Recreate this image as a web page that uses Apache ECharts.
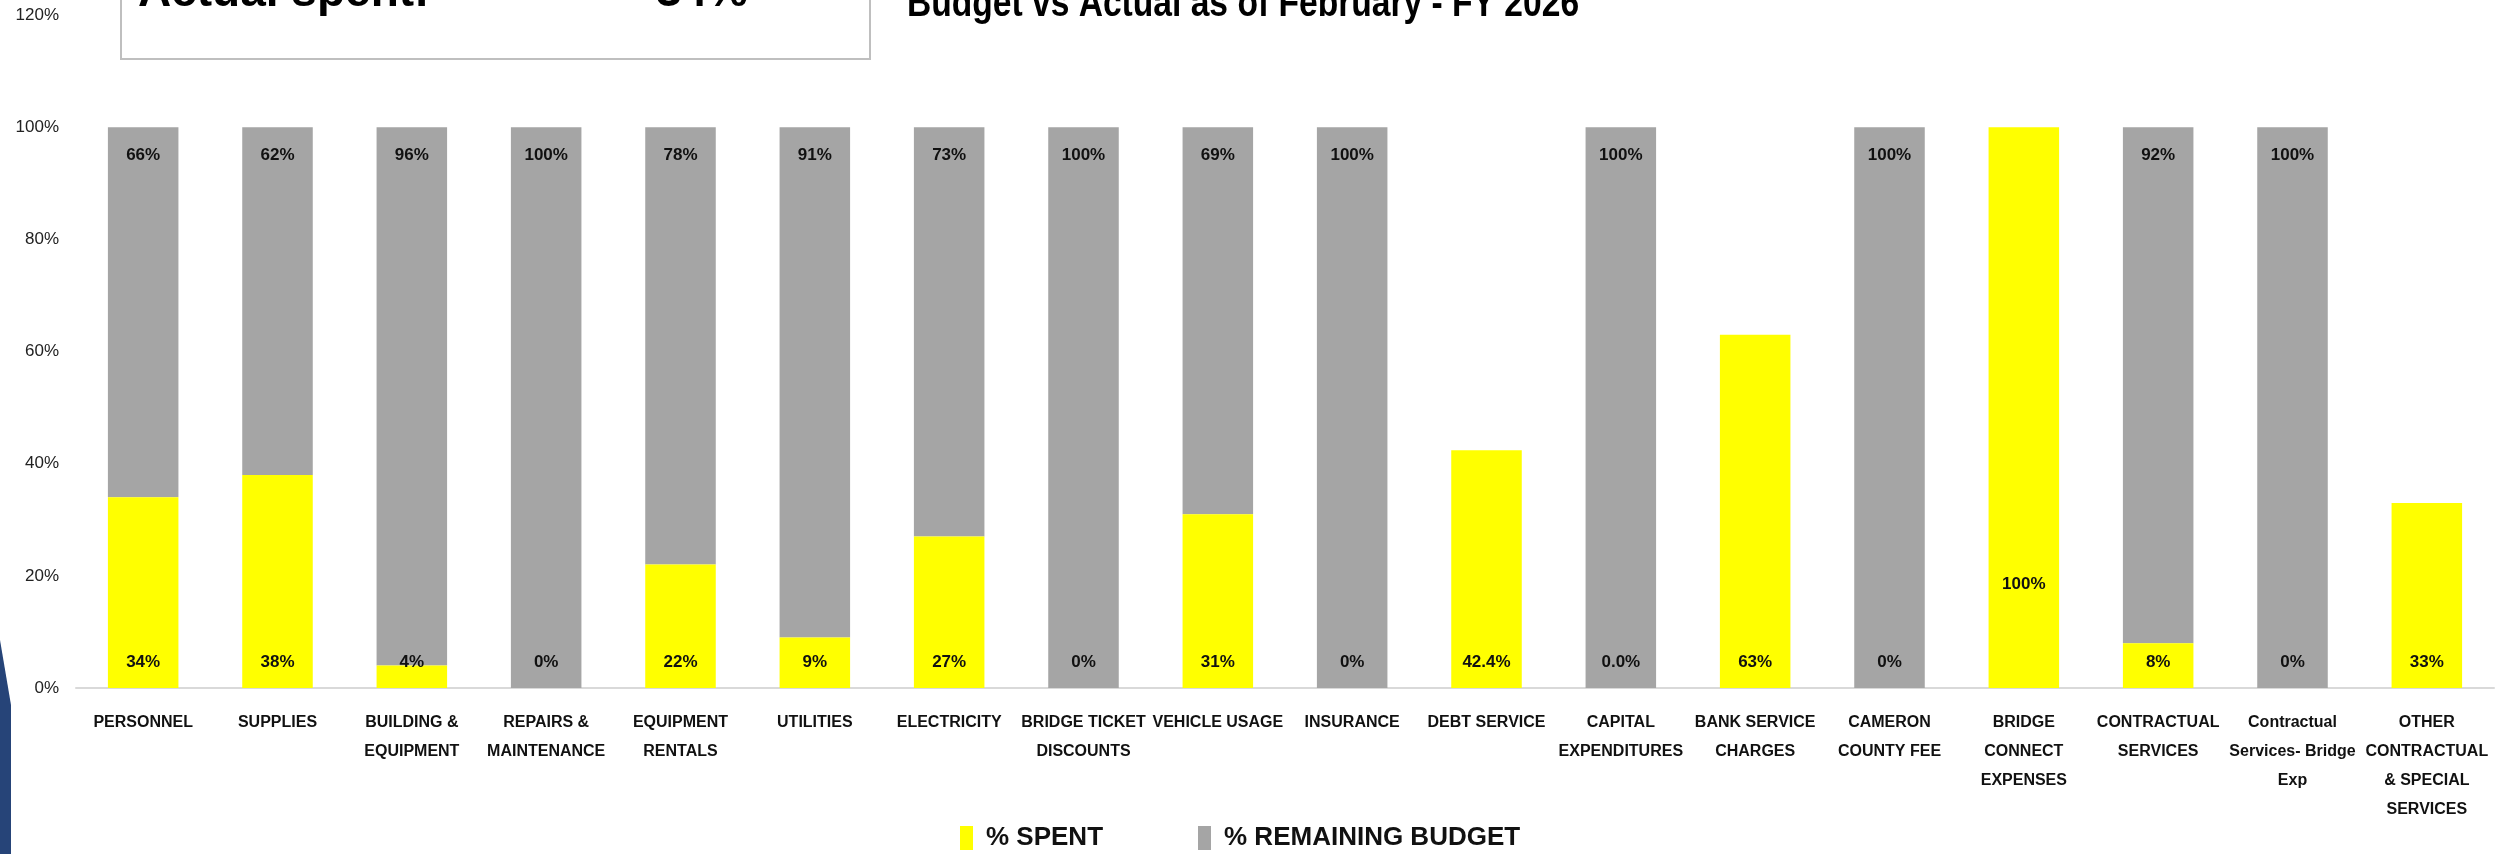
<!DOCTYPE html>
<html>
<head>
<meta charset="utf-8">
<script src="https://cdn.jsdelivr.net/npm/echarts@6/dist/echarts.min.js"></script>
<style>
html,body{margin:0;padding:0;background:#fff;}
#chart{width:2498px;height:854px;}
</style>
</head>
<body>
<div id="chart"></div>
<script>
const categories = [
  "PERSONNEL", "SUPPLIES", "BUILDING &\nEQUIPMENT", "REPAIRS &\nMAINTENANCE",
  "EQUIPMENT\nRENTALS", "UTILITIES", "ELECTRICITY", "BRIDGE TICKET\nDISCOUNTS",
  "VEHICLE USAGE", "INSURANCE", "DEBT SERVICE", "CAPITAL\nEXPENDITURES",
  "BANK SERVICE\nCHARGES", "CAMERON\nCOUNTY FEE", "BRIDGE\nCONNECT\nEXPENSES",
  "CONTRACTUAL\nSERVICES", "Contractual\nServices- Bridge\nExp",
  "OTHER\nCONTRACTUAL\n& SPECIAL\nSERVICES"
];
const spent = [34, 38, 4, 0, 22, 9, 27, 0, 31, 0, 42.4, 0, 63, 0, 100, 8, 0, 33];
const spentDecimals = [0, 0, 0, 0, 0, 0, 0, 0, 0, 0, 1, 1, 0, 0, 0, 0, 0, 0];
const remaining = [66, 62, 96, 100, 78, 91, 73, 100, 69, 100, null, 100, null, 100, null, 92, 100, null];
const yTicks = [0, 20, 40, 60, 80, 100, 120];
const titleText = "Budget vs Actual as of February - FY 2026";
const boxLabel = "Actual spent:";
const boxValue = "34%";
const legendNames = ["% SPENT", "% REMAINING BUDGET"];

const FONT = "'Liberation Sans', Arial, sans-serif";
const chart = echarts.init(document.getElementById('chart'));

const spentData = spent.map((v, i) => {
  const item = { value: v, dec: spentDecimals[i] };
  if (v === 100) item.label = { distance: 95 };
  return item;
});

chart.setOption({
  animation: false,
  backgroundColor: '#ffffff',
  grid: { left: 76, right: 4, top: 15, bottom: 166, containLabel: false },
  legend: {
    data: legendNames,
    left: 955, top: 820,
    itemWidth: 13, itemHeight: 24, itemGap: 95,
    icon: 'rect',
    textStyle: { fontFamily: FONT, fontWeight: 'bold', fontSize: 26, color: '#111', padding: [0, 0, 0, 8] }
  },
  xAxis: {
    type: 'category',
    data: categories,
    axisLine: { lineStyle: { color: '#d9d9d9', width: 2 } },
    axisTick: { show: false },
    axisLabel: {
      interval: 0, margin: 20, fontFamily: FONT, fontWeight: 'bold', fontSize: 16,
      lineHeight: 29, color: '#111'
    }
  },
  yAxis: {
    type: 'value', min: yTicks[0], max: yTicks[yTicks.length - 1], interval: 20,
    axisLine: { show: false }, axisTick: { show: false }, splitLine: { show: false },
    axisLabel: { formatter: '{value}%', margin: 17, fontFamily: FONT, fontSize: 17, color: '#222' }
  },
  series: [
    {
      name: legendNames[0], type: 'bar', stack: 'total', barWidth: '52.5%', z: 3,
      itemStyle: { color: '#ffff00' },
      label: {
        show: true, position: 'insideBottom', distance: 17.5,
        fontFamily: FONT, fontWeight: 'bold', fontSize: 17, color: '#111',
        formatter: p => p.data.value.toFixed(p.data.dec) + '%'
      },
      data: spentData
    },
    {
      name: legendNames[1], type: 'bar', stack: 'total', barWidth: '52.5%', z: 2,
      itemStyle: { color: '#a5a5a5' },
      label: {
        show: true, position: 'insideTop', distance: 19.5,
        fontFamily: FONT, fontWeight: 'bold', fontSize: 17, color: '#111',
        formatter: p => p.value + '%'
      },
      data: remaining
    }
  ],
  graphic: [
    { type: 'polygon', shape: { points: [[0, 640], [11, 705], [11, 854], [0, 854]] }, style: { fill: '#264478' } },
    { type: 'rect', shape: { x: 121, y: -20, width: 749, height: 79 }, style: { fill: '#ffffff', stroke: '#bfbfbf', lineWidth: 2 } },
    { type: 'text', x: 138, y: -7, style: { text: boxLabel, fontFamily: FONT, fontWeight: 'bold', fontSize: 46, fill: '#000', verticalAlign: 'middle', align: 'left' } },
    { type: 'text', x: 748, y: -7, style: { text: boxValue, fontFamily: FONT, fontWeight: 'bold', fontSize: 46, fill: '#000', verticalAlign: 'middle', align: 'right' } },
    { type: 'text', x: 1243, y: 5, scaleX: 0.84, style: { text: titleText, fontFamily: FONT, fontWeight: 'bold', fontSize: 40, fill: '#000', verticalAlign: 'middle', align: 'center' } }
  ]
});
</script>
</body>
</html>
